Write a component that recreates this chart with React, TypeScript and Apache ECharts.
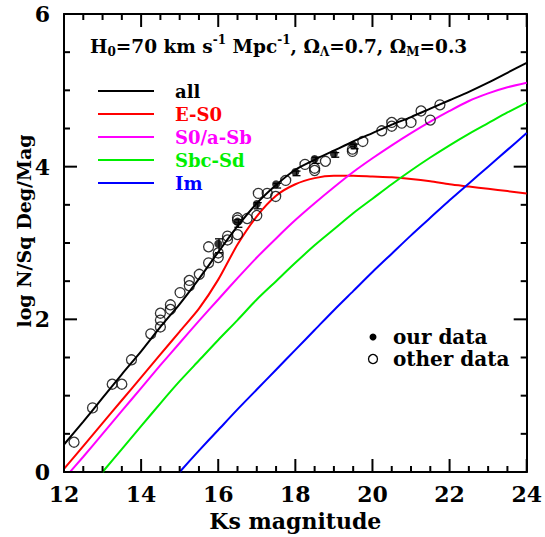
import React, { useEffect, useRef } from "react";
import * as echarts from "echarts";

// Model curves, sampled every 0.5 mag
const magnitudes = [12, 12.5, 13, 13.5, 14, 14.5, 15, 15.5, 16, 16.5, 17, 17.5, 18, 18.5, 19, 19.5, 20, 20.5, 21, 21.5, 22, 22.5, 23, 23.5, 24];
const allCounts = [0.36, 0.66, 0.97, 1.28, 1.58, 1.9, 2.2, 2.53, 2.88, 3.22, 3.52, 3.76, 3.96, 4.09, 4.21, 4.33, 4.44, 4.55, 4.65, 4.76, 4.87, 4.98, 5.1, 5.23, 5.36];
const es0Counts = [0.04, 0.34, 0.64, 0.94, 1.24, 1.54, 1.84, 2.14, 2.52, 2.98, 3.35, 3.62, 3.77, 3.85, 3.88, 3.88, 3.87, 3.86, 3.84, 3.81, 3.77, 3.74, 3.71, 3.68, 3.65];
const s0aSbCounts = [-0.09, 0.2, 0.5, 0.8, 1.1, 1.4, 1.69, 1.98, 2.26, 2.54, 2.81, 3.06, 3.3, 3.52, 3.73, 3.93, 4.11, 4.28, 4.44, 4.59, 4.73, 4.86, 4.96, 5.04, 5.1];
const sbcSdCounts = [null, null, 0, 0.3, 0.6, 0.9, 1.19, 1.46, 1.73, 1.99, 2.26, 2.5, 2.74, 2.97, 3.18, 3.39, 3.58, 3.77, 3.95, 4.12, 4.28, 4.43, 4.57, 4.71, 4.84];
const imCounts = [null, null, null, null, null, null, 0, 0.28, 0.55, 0.82, 1.08, 1.34, 1.6, 1.86, 2.12, 2.37, 2.62, 2.86, 3.1, 3.33, 3.56, 3.78, 4.0, 4.22, 4.44];

// Our data (filled) with errors
const ourMag = [16, 16.5, 17, 17.5, 18, 18.5, 19, 19.5];
const ourCounts = [2.99, 3.28, 3.51, 3.77, 3.93, 4.1, 4.17, 4.28];
const ourErrors = [0.09, 0.05, 0.04, 0.03, 0.03, 0.04, 0.03, 0.03];

// Other data (open)
const otherMag = [12.26, 12.74, 13.25, 13.5, 13.75, 14.25, 14.5, 14.5, 14.5, 14.76, 14.76, 15.01, 15.25, 15.25, 15.51, 15.75, 15.75, 16.0, 16.0, 16.24, 16.24, 16.5, 16.5, 16.5, 16.75, 17.0, 17.04, 17.27, 17.49, 17.75, 18.25, 18.5, 18.5, 18.78, 19.48, 19.48, 19.75, 20.24, 20.5, 20.5, 20.76, 21.0, 21.26, 21.5, 21.75];
const otherCounts = [0.39, 0.84, 1.15, 1.15, 1.47, 1.81, 1.9, 1.99, 2.08, 2.13, 2.19, 2.35, 2.44, 2.51, 2.59, 2.74, 2.95, 2.81, 2.87, 3.04, 3.09, 3.11, 3.3, 3.33, 3.32, 3.36, 3.65, 3.65, 3.61, 3.82, 4.03, 3.98, 3.95, 4.07, 4.23, 4.2, 4.33, 4.47, 4.58, 4.53, 4.57, 4.58, 4.73, 4.61, 4.81];

// Tick values (major every 2, minor every 0.5)
const xTicks = [12, 14, 16, 18, 20, 22, 24];
const yTicks = [0, 2, 4, 6];
const xTickMarks = [12, 12.5, 13, 13.5, 14, 14.5, 15, 15.5, 16, 16.5, 17, 17.5, 18, 18.5, 19, 19.5, 20, 20.5, 21, 21.5, 22, 22.5, 23, 23.5, 24];
const yTickMarks = [0, 0.5, 1, 1.5, 2, 2.5, 3, 3.5, 4, 4.5, 5, 5.5, 6];

const legendNames = ["all", "E-S0", "S0/a-Sb", "Sbc-Sd", "Im"];
const legendColors = ["#000000", "#ff0000", "#ff00ff", "#00ee00", "#0000ff"];

const FONT = "DejaVu Serif";
const MAJOR_LEN = 13;
const MINOR_LEN = 6;
const TICK_W = 2;

// layout
const W = 545;
const H = 537;
const GRID = { left: 64, right: 16, top: 14, bottom: 61 };
const X_MIN = 12;
const X_MAX = 24;
const Y_MIN = 0;
const Y_MAX = 6;

function pairs(xs: number[], ys: (number | null)[]) {
  const out: number[][] = [];
  xs.forEach((x, i) => {
    const y = ys[i];
    if (y !== null && y !== undefined) out.push([x, y]);
  });
  return out;
}

function bar(x: number, y: number, w: number, h: number) {
  return { type: "rect", z: 100, silent: true, shape: { x, y, width: w, height: h }, style: { fill: "#000" } };
}

// tick marks drawn as rectangular scatter symbols, placed by the chart's scales
function tickSeries(points: number[][], size: number[], offset: number[]) {
  return {
    type: "scatter",
    silent: true,
    clip: false,
    symbol: "rect",
    symbolSize: size,
    symbolOffset: offset,
    itemStyle: { color: "#000", opacity: 1 },
    emphasis: { disabled: true },
    data: points,
    z: 10,
  };
}

export default function App() {
  const ref = useRef<HTMLDivElement>(null);
  useEffect(() => {
    const chart = echarts.init(ref.current!, null, { renderer: "svg" });
    const curves = [allCounts, es0Counts, s0aSbCounts, sbcSdCounts, imCounts];

    const mkAxis = () => ({
      type: "value",
      axisLine: { show: true, onZero: false, lineStyle: { color: "#000", width: 2 } },
      axisTick: { show: false },
      minorTick: { show: false },
      splitLine: { show: false },
      minorSplitLine: { show: false },
    });

    const gx0 = GRID.left;
    const gx1 = W - GRID.right;
    const gy0 = H - GRID.bottom;
    const gy1 = GRID.top;
    const toPx = (x: number, y: number) => [
      gx0 + ((x - X_MIN) / (X_MAX - X_MIN)) * (gx1 - gx0),
      gy0 + ((y - Y_MIN) / (Y_MAX - Y_MIN)) * (gy1 - gy0),
    ];

    const graphics: any[] = [
      {
        type: "text",
        x: 24,
        y: 231,
        rotation: Math.PI / 2,
        style: {
          text: "log N/Sq Deg/Mag",
          fill: "#000",
          font: `bold 19px '${FONT}'`,
          align: "center",
          verticalAlign: "middle",
        },
      },
      {
        type: "text",
        x: 90,
        y: 46,
        style: {
          text: "{n|H}{sub|0}{n|=70 km s}{sup|-1}{n| Mpc}{sup|-1}{n|, Ω}{sub|Λ}{n|=0.7, Ω}{sub|M}{n|=0.3}",
          align: "left",
          verticalAlign: "middle",
          fill: "#000",
          rich: {
            n: { fontSize: 18.5, fontWeight: "bold", fontFamily: FONT, lineHeight: 24, fill: "#000" },
            sub: { fontSize: 12, fontWeight: "bold", fontFamily: FONT, lineHeight: 24, verticalAlign: "bottom", fill: "#000" },
            sup: { fontSize: 12, fontWeight: "bold", fontFamily: FONT, lineHeight: 24, verticalAlign: "top", fill: "#000" },
          },
        },
      },
      { type: "circle", shape: { cx: 373, cy: 337, r: 3.5 }, style: { fill: "#000" } },
      {
        type: "text",
        x: 393,
        y: 337,
        style: { text: "our data", fill: "#000", font: `bold 20px '${FONT}'`, verticalAlign: "middle" },
      },
      { type: "circle", shape: { cx: 373, cy: 359, r: 4.5 }, style: { fill: "none", stroke: "#000", lineWidth: 1.3 } },
      {
        type: "text",
        x: 393,
        y: 359,
        style: { text: "other data", fill: "#000", font: `bold 20px '${FONT}'`, verticalAlign: "middle" },
      },
    ];
    legendNames.forEach((name, i) => {
      const y = 91 + i * 23;
      graphics.push({
        type: "line",
        shape: { x1: 98, y1: y, x2: 154, y2: y },
        style: { stroke: legendColors[i], lineWidth: 2 },
      });
      graphics.push({
        type: "text",
        x: 175,
        y: y,
        style: {
          text: name,
          fill: legendColors[i],
          font: `bold 18px '${FONT}'`,
          verticalAlign: "middle",
          align: "left",
        },
      });
    });

    ourMag.forEach((m, i) => {
      const top = toPx(m, ourCounts[i] + ourErrors[i]);
      const bot = toPx(m, ourCounts[i] - ourErrors[i]);
      const w = 4;
      graphics.push(bar(top[0] - 0.65, top[1], 1.3, bot[1] - top[1]));
      graphics.push(bar(top[0] - w, top[1] - 0.65, 2 * w, 1.3));
      graphics.push(bar(bot[0] - w, bot[1] - 0.65, 2 * w, 1.3));
    });

    const xMajor = xTickMarks.filter((v) => xTicks.includes(v));
    const xMinor = xTickMarks.filter((v) => !xTicks.includes(v));
    const yMajor = yTickMarks.filter((v) => yTicks.includes(v));
    const yMinor = yTickMarks.filter((v) => !yTicks.includes(v));

    const ticks = [
      // bottom
      tickSeries(xMajor.map((v) => [v, Y_MIN]), [TICK_W, MAJOR_LEN], [0, -MAJOR_LEN / 2]),
      tickSeries(xMinor.map((v) => [v, Y_MIN]), [TICK_W, MINOR_LEN], [0, -MINOR_LEN / 2]),
      // top
      tickSeries(xMajor.map((v) => [v, Y_MAX]), [TICK_W, MAJOR_LEN], [0, MAJOR_LEN / 2]),
      tickSeries(xMinor.map((v) => [v, Y_MAX]), [TICK_W, MINOR_LEN], [0, MINOR_LEN / 2]),
      // left
      tickSeries(yMajor.map((v) => [X_MIN, v]), [MAJOR_LEN, TICK_W], [MAJOR_LEN / 2, 0]),
      tickSeries(yMinor.map((v) => [X_MIN, v]), [MINOR_LEN, TICK_W], [MINOR_LEN / 2, 0]),
      // right
      tickSeries(yMajor.map((v) => [X_MAX, v]), [MAJOR_LEN, TICK_W], [-MAJOR_LEN / 2, 0]),
      tickSeries(yMinor.map((v) => [X_MAX, v]), [MINOR_LEN, TICK_W], [-MINOR_LEN / 2, 0]),
    ];

    const option: any = {
      animation: false,
      backgroundColor: "#ffffff",
      grid: { ...GRID, containLabel: false },
      xAxis: [
        {
          ...mkAxis(),
          position: "bottom",
          min: X_MIN,
          max: X_MAX,
          interval: 2,
          axisLabel: {
            show: true,
            margin: 11,
            color: "#000",
            fontSize: 22,
            fontWeight: "bold",
            fontFamily: FONT,
            formatter: (v: number) => (xTicks.includes(v) ? String(v) : ""),
          },
          name: "Ks magnitude",
          nameLocation: "middle",
          nameGap: 38,
          nameTextStyle: { color: "#000", fontSize: 22, fontWeight: "bold", fontFamily: FONT },
        },
        {
          ...mkAxis(),
          position: "top",
          min: X_MIN,
          max: X_MAX,
          interval: 2,
          axisLabel: { show: false },
        },
      ],
      yAxis: [
        {
          ...mkAxis(),
          position: "left",
          min: Y_MIN,
          max: Y_MAX,
          interval: 2,
          axisLabel: {
            show: true,
            margin: 14,
            color: "#000",
            fontSize: 22,
            fontWeight: "bold",
            fontFamily: FONT,
            formatter: (v: number) => (yTicks.includes(v) ? String(v) : ""),
          },
        },
        {
          ...mkAxis(),
          position: "right",
          min: Y_MIN,
          max: Y_MAX,
          interval: 2,
          axisLabel: { show: false },
        },
      ],
      graphic: { elements: graphics },
      series: [
        ...curves.map((vals, i) => ({
          type: "line",
          name: legendNames[i],
          data: pairs(magnitudes, vals),
          showSymbol: false,
          smooth: 0.25,
          clip: true,
          lineStyle: { color: legendColors[i], width: 2 },
          z: 2,
        })),
        {
          type: "scatter",
          name: "other data",
          data: pairs(otherMag, otherCounts),
          symbol: "circle",
          symbolSize: 10,
          itemStyle: { color: "rgba(0,0,0,0)", borderColor: "#000", borderWidth: 1.3 },
          z: 3,
        },
        {
          type: "scatter",
          name: "our data",
          data: pairs(ourMag, ourCounts),
          symbol: "circle",
          symbolSize: 8,
          itemStyle: { color: "#000" },
          z: 5,
        },
        ...ticks,
      ],
    };
    chart.setOption(option);
    return () => chart.dispose();
  }, []);
  return <div ref={ref} style={{ position: "fixed", left: 0, top: 0, width: W, height: H }} />;
}
